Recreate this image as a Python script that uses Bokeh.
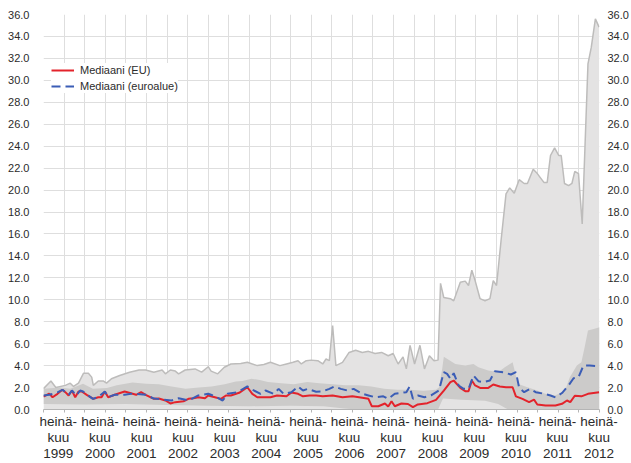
from bokeh.plotting import figure
from bokeh.models import (Range1d, FixedTicker, LinearAxis, NumeralTickFormatter,
                          Legend, LegendItem)
from bokeh.embed import file_html
from bokeh.resources import INLINE

# ---------------- data (decimal years) ----------------
max_t = [1999.50, 1999.68, 1999.80, 2000.03, 2000.15, 2000.23, 2000.35, 2000.47, 2000.59, 2000.67,
         2000.71, 2000.83, 2000.95, 2001.03, 2001.15, 2001.35, 2001.59, 2001.82, 2001.98, 2002.18,
         2002.38, 2002.46, 2002.58, 2002.70, 2002.78, 2002.94, 2003.18, 2003.34, 2003.50, 2003.57,
         2003.73, 2003.89, 2004.05, 2004.29, 2004.45, 2004.69, 2004.85, 2005.01, 2005.24, 2005.40,
         2005.56, 2005.68, 2005.76, 2005.88, 2006.00, 2006.16, 2006.28, 2006.36, 2006.44, 2006.52,
         2006.60, 2006.76, 2006.92, 2007.08, 2007.24, 2007.39, 2007.55, 2007.71, 2007.87, 2007.99,
         2008.11, 2008.23, 2008.31, 2008.40, 2008.51, 2008.64, 2008.75, 2008.87, 2008.98, 2009.08,
         2009.14, 2009.22, 2009.38, 2009.46, 2009.62, 2009.74, 2009.82, 2009.90, 2009.98, 2010.10,
         2010.22, 2010.34, 2010.42, 2010.50, 2010.61, 2010.73, 2010.82, 2010.93, 2011.05, 2011.17,
         2011.25, 2011.39, 2011.49, 2011.65, 2011.73, 2011.81, 2011.91, 2012.01, 2012.07, 2012.15,
         2012.25, 2012.33, 2012.40, 2012.49, 2012.58, 2012.72, 2012.80, 2012.90, 2012.99]
max_v = [1.9, 2.6, 2.0, 2.2, 2.4, 2.1, 2.4, 3.3, 3.3, 2.95,
         2.2, 2.6, 2.6, 2.4, 2.8, 3.1, 3.4, 3.6, 3.6, 3.4,
         3.6, 3.25, 3.6, 3.5, 3.25, 3.6, 3.7, 3.4, 3.9, 3.5,
         3.25, 3.85, 4.15, 4.2, 4.3, 4.0, 4.1, 4.3, 4.0, 4.15,
         4.3, 4.45, 4.15, 4.45, 4.5, 4.45, 4.15, 4.6, 4.45, 7.65,
         4.0, 4.3, 5.2, 5.4, 5.2, 5.3, 5.1, 5.2, 4.9, 5.1,
         4.15, 4.8, 3.7, 5.85, 4.15, 5.85, 3.7, 4.9, 4.45, 4.5,
         11.5, 10.2, 10.1, 9.9, 11.6, 11.7, 11.3, 12.7, 11.75, 10.1,
         9.9, 10.1, 11.75, 11.3, 15.4, 19.65, 20.2, 19.7, 20.95, 20.6,
         20.6, 21.9, 21.5, 20.7, 20.7, 23.15, 23.85, 23.15, 23.15, 20.6,
         20.4, 20.6, 21.7, 21.5, 16.9, 31.5, 33.0, 35.6, 34.85]

band_hi_t = [1999.50, 1999.92, 2000.15, 2000.46, 2000.70, 2001.04, 2001.28, 2001.66, 2001.99, 2002.30,
             2002.61, 2002.95, 2003.27, 2003.58, 2003.90, 2004.17, 2004.33, 2004.55, 2004.75, 2004.95,
             2005.27, 2005.58, 2005.90, 2006.20, 2006.52, 2006.83, 2007.15, 2007.46, 2007.77, 2008.09,
             2008.40, 2008.72, 2009.03, 2009.10, 2009.18, 2009.22, 2009.50, 2009.74, 2009.94, 2010.06,
             2010.30, 2010.54, 2010.70, 2010.89, 2010.95, 2011.01, 2011.25, 2011.49, 2011.68, 2011.92,
             2012.16, 2012.28, 2012.45, 2012.56, 2012.64, 2012.72, 2012.88, 2013.00]
band_hi = [1.9, 2.0, 1.9, 2.35, 1.9, 1.95, 2.2, 2.45, 2.35, 2.3,
           2.1, 1.9, 2.0, 2.1, 2.3, 2.55, 2.6, 2.8, 2.7, 2.5,
           2.4, 2.3, 2.5, 2.4, 2.3, 2.2, 2.2, 2.1, 1.9, 1.8,
           1.8, 1.7, 1.8, 2.0, 3.7, 4.8, 4.15, 4.0, 4.15, 3.85,
           3.55, 3.4, 3.85, 4.3, 3.4, 2.35, 2.03, 1.73, 1.43, 1.28,
           1.7, 2.95, 4.0, 4.3, 5.7, 7.2, 7.35, 7.5]

band_lo_t = [1999.50, 2000.50, 2001.50, 2002.50, 2003.50, 2004.50, 2005.50, 2006.30, 2006.80, 2007.10,
             2009.08, 2009.20, 2009.65, 2010.22, 2010.54, 2010.78, 2013.00]
band_lo = [0.5, 0.45, 0.5, 0.4, 0.35, 0.3, 0.35, 0.3, 0.1, 0.0,
           0.0, 1.0, 0.9, 0.8, 0.5, 0.0, 0.0]

eu_t = [1999.50, 1999.64, 1999.72, 1999.84, 1999.96, 2000.03, 2000.11, 2000.19, 2000.27, 2000.35,
        2000.43, 2000.55, 2000.71, 2000.83, 2000.91, 2000.99, 2001.07, 2001.23, 2001.47, 2001.75,
        2001.87, 2001.98, 2002.18, 2002.30, 2002.46, 2002.58, 2002.70, 2002.90, 2003.02, 2003.14,
        2003.26, 2003.42, 2003.50, 2003.66, 2003.81, 2003.93, 2004.05, 2004.25, 2004.45, 2004.57,
        2004.69, 2005.01, 2005.17, 2005.40, 2005.52, 2005.68, 2005.80, 2005.96, 2006.12, 2006.28,
        2006.52, 2006.76, 2007.00, 2007.24, 2007.39, 2007.47, 2007.63, 2007.79, 2007.87, 2007.95,
        2008.03, 2008.19, 2008.35, 2008.47, 2008.59, 2008.82, 2009.03, 2009.22, 2009.38, 2009.46,
        2009.62, 2009.74, 2009.82, 2009.90, 2009.98, 2010.10, 2010.30, 2010.42, 2010.58, 2010.73,
        2010.89, 2010.97, 2011.13, 2011.29, 2011.41, 2011.49, 2011.69, 2011.93, 2012.09, 2012.21,
        2012.29, 2012.40, 2012.56, 2012.72, 2012.99]
eu_v = [1.18, 1.45, 1.12, 1.43, 1.8, 1.58, 1.28, 1.73, 1.12, 1.64,
        1.64, 1.34, 0.97, 1.12, 1.12, 1.64, 1.12, 1.34, 1.64, 1.34,
        1.58, 1.34, 0.97, 1.0, 0.82, 0.55, 0.67, 0.75, 0.97, 1.03,
        1.12, 1.03, 1.28, 1.12, 0.97, 1.28, 1.28, 1.52, 2.03, 1.43,
        1.12, 1.12, 1.28, 1.2, 1.55, 1.43, 1.2, 1.28, 1.28, 1.2,
        1.28, 1.12, 1.2, 1.07, 0.97, 0.3, 0.3, 0.55, 0.27, 0.75,
        0.3, 0.55, 0.5, 0.21, 0.46, 0.58, 0.88, 1.73, 2.49, 2.64,
        1.97, 1.67, 1.67, 2.64, 2.19, 1.97, 1.97, 2.28, 2.1, 2.03,
        2.03, 1.2, 0.97, 0.67, 0.9, 0.46, 0.36, 0.36, 0.52, 0.82,
        0.67, 1.25, 1.2, 1.43, 1.58]

ea_t = [1999.50, 1999.64, 1999.84, 1999.96, 2000.11, 2000.19, 2000.30, 2000.39, 2000.46, 2000.56,
        2000.70, 2000.82, 2000.99, 2001.07, 2001.23, 2001.47, 2001.66, 2001.99, 2002.18, 2002.42,
        2002.61, 2002.78, 2003.02, 2003.26, 2003.50, 2003.66, 2003.85, 2003.97, 2004.21, 2004.45,
        2004.61, 2004.77, 2004.89, 2005.09, 2005.21, 2005.33, 2005.52, 2005.68, 2005.80, 2005.92,
        2006.12, 2006.28, 2006.44, 2006.57, 2006.72, 2006.88, 2007.03, 2007.24, 2007.39, 2007.55,
        2007.75, 2007.87, 2008.03, 2008.15, 2008.31, 2008.39, 2008.47, 2008.59, 2008.75, 2008.91,
        2009.10, 2009.22, 2009.30, 2009.38, 2009.46, 2009.58, 2009.70, 2009.82, 2009.94, 2010.06,
        2010.18, 2010.34, 2010.46, 2010.66, 2010.85, 2010.97, 2011.05, 2011.17, 2011.31, 2011.45,
        2011.66, 2011.81, 2011.93, 2012.09, 2012.25, 2012.37, 2012.49, 2012.61, 2012.76, 2012.99]
ea_v = [1.28, 1.34, 1.55, 1.8, 1.34, 1.73, 1.28, 1.73, 1.64, 1.34,
        0.97, 1.12, 1.64, 1.12, 1.34, 1.34, 1.45, 1.34, 1.0, 0.9,
        0.82, 1.03, 0.82, 1.28, 1.43, 1.21, 0.82, 1.43, 1.58, 2.1,
        1.73, 1.43, 1.73, 1.43, 1.88, 1.43, 1.58, 2.1, 1.73, 1.88,
        1.62, 1.65, 1.88, 2.1, 1.88, 1.73, 1.88, 1.43, 1.28, 1.12,
        1.2, 0.97, 1.43, 1.49, 1.58, 2.1, 0.97, 1.28, 1.12, 1.28,
        1.73, 3.4, 3.25, 2.8, 3.31, 2.19, 1.88, 1.88, 3.1, 2.58,
        2.49, 2.64, 3.49, 3.4, 3.19, 3.4, 1.97, 1.58, 1.88, 1.58,
        1.43, 1.28, 1.1, 1.5, 2.2, 2.85, 2.95, 4.0, 4.0, 3.95]

years = list(range(1999, 2013))
x_tick_labels = ["heinä-\nkuu\n%d" % y for y in years]
y_ticks = [0, 2, 4, 6, 8, 10, 12, 14, 16, 18, 20, 22, 24, 26, 28, 30, 32, 34, 36]
series_names = ["Mediaani (EU)", "Mediaani (euroalue)"]

# ---------------- styling ----------------
FONT = "Liberation Sans"
TXT = "#2b2b2b"
GRID = "#dedede"

p = figure(width=631, height=463, output_backend="svg", toolbar_location=None,
           x_range=Range1d(1999.5, 2013.0), y_range=Range1d(0, 36),
           min_border_left=43, min_border_top=14, min_border_bottom=54, min_border_right=0,
           background_fill_color="white", border_fill_color="white")
p.outline_line_color = None

half_years = [1999.5 + 0.5 * i for i in range(28)]
# label anchors spread evenly between first and last year (as in the original layout)
label_pos = [round(1999.86 + i * 1.01, 3) for i in range(len(years))]

# grids
p.xgrid.ticker = FixedTicker(ticks=half_years)
p.xgrid.grid_line_color = GRID
p.ygrid.ticker = FixedTicker(ticks=y_ticks)
p.ygrid.grid_line_color = GRID

# x axis
xa = p.xaxis[0]
xa.ticker = FixedTicker(ticks=label_pos, minor_ticks=half_years)
xa.major_label_overrides = {pos: lab for pos, lab in zip(label_pos, x_tick_labels)}
xa.major_tick_line_color = None
xa.major_tick_out = 0
xa.major_tick_in = 0
xa.minor_tick_out = 3
xa.minor_tick_in = 0
xa.minor_tick_line_color = "#b5b5b5"
xa.axis_line_color = "#b5b5b5"
xa.major_label_text_font = FONT
xa.major_label_text_font_size = "13.5px"
xa.major_label_text_color = TXT
xa.major_label_text_line_height = 1.08
xa.major_label_standoff = 1

# y axes
def style_y(ax, standoff):
    ax.ticker = FixedTicker(ticks=y_ticks)
    ax.formatter = NumeralTickFormatter(format="0.0")
    ax.axis_line_color = None
    ax.major_tick_line_color = None
    ax.minor_tick_line_color = None
    ax.major_label_text_font = FONT
    ax.major_label_text_font_size = "11px"
    ax.major_label_text_color = TXT
    ax.major_label_standoff = standoff

style_y(p.yaxis[0], 8)
ra = LinearAxis()
style_y(ra, 2)
p.add_layout(ra, "right")

# areas
p.varea(x=max_t, y1=0, y2=max_v, fill_color="#e4e3e3")
band_x = band_hi_t + band_lo_t[::-1]
band_y = band_hi + band_lo[::-1]
p.patch(band_x, band_y, fill_color="#cccbca", line_color=None)
p.line(max_t, max_v, line_color="#bdbcbb", line_width=1.5)

# medians
r_eu = p.line(eu_t, eu_v, line_color="#e3232b", line_width=2)
r_ea = p.line(ea_t, ea_v, line_color="#3b5db6", line_width=2, line_dash="9 5")

legend = Legend(items=[LegendItem(label=series_names[0], renderers=[r_eu]),
                       LegendItem(label=series_names[1], renderers=[r_ea])],
                location=(8, 316))
legend.label_text_font = FONT
legend.label_text_font_size = "11px"
legend.label_text_color = TXT
legend.glyph_width = 23
legend.glyph_height = 14
legend.label_height = 14
legend.label_standoff = 6
legend.spacing = 2
legend.padding = 4
legend.margin = 0
legend.border_line_color = None
legend.background_fill_color = "white"
legend.background_fill_alpha = 1.0
p.add_layout(legend)

open("out.html", "w").write(file_html(p, INLINE))
